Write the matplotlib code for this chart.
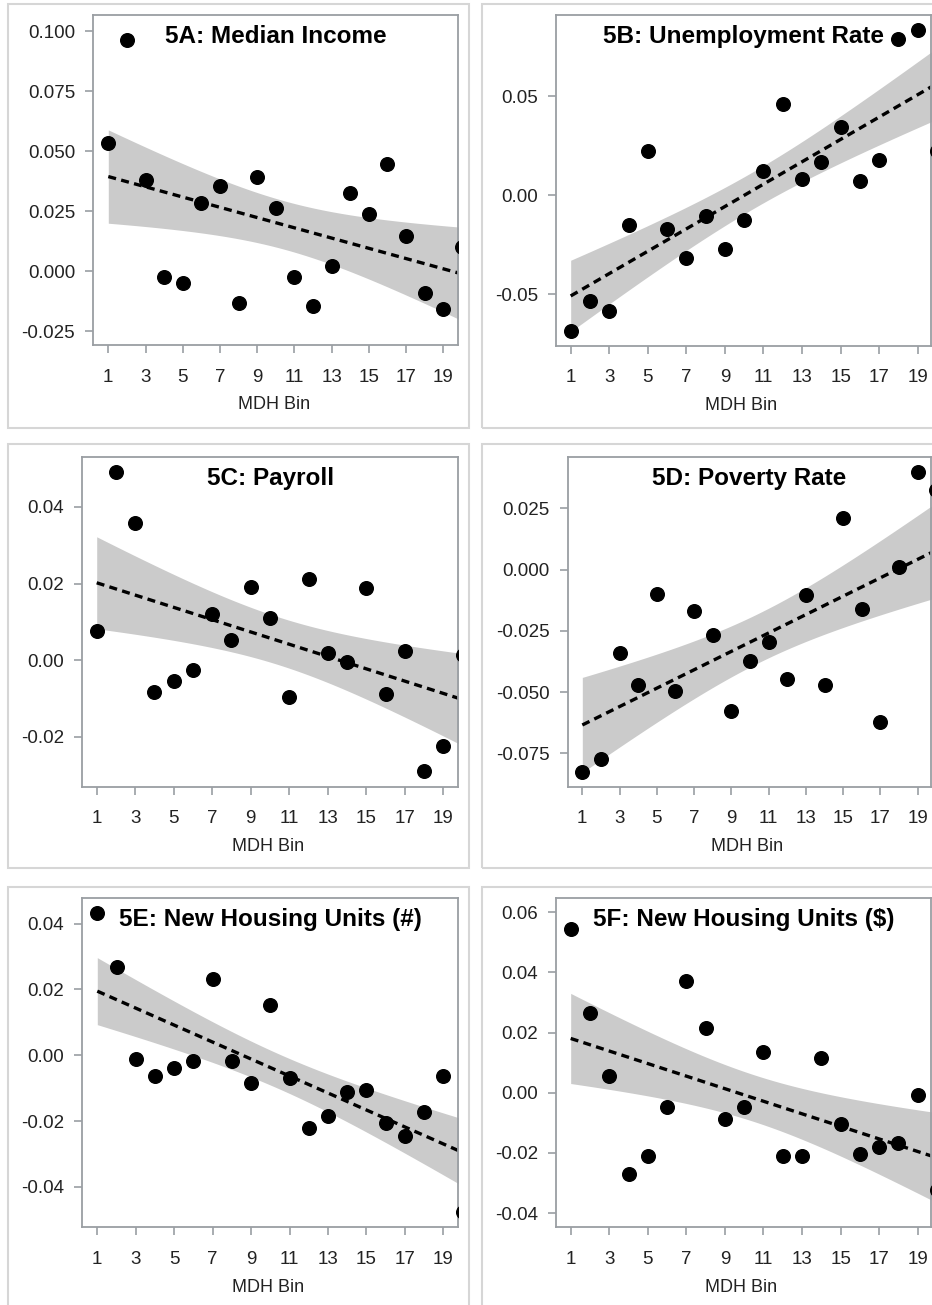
import numpy as np
import matplotlib
matplotlib.use("Agg")
import matplotlib.pyplot as plt
from matplotlib.patches import Rectangle

plt.rcParams['font.family'] = ['Liberation Sans', 'DejaVu Sans']

W, H = 932, 1305

bins = np.arange(1, 21)

median_income = [0.0532, 0.0963, 0.0378, -0.0024, -0.0049, 0.0285, 0.0354, -0.0132, 0.0393, 0.0261,
                 -0.0024, -0.0146, 0.0022, 0.0324, 0.0239, 0.0447, 0.0146, -0.0093, -0.0156, 0.0099]
unemployment = [-0.0684, -0.0534, -0.0582, -0.0150, 0.0226, -0.0168, -0.0318, -0.0103, -0.0273, -0.0123,
                0.0123, 0.0460, 0.0084, 0.0168, 0.0347, 0.0074, 0.0178, 0.0788, 0.0835, 0.0224]
payroll = [0.0077, 0.0492, 0.0357, -0.0083, -0.0053, -0.0025, 0.0120, 0.0053, 0.0192, 0.0110,
           -0.0097, 0.0213, 0.0018, -0.0005, 0.0188, -0.0088, 0.0024, -0.0290, -0.0223, 0.0014]
poverty = [-0.0827, -0.0773, -0.0341, -0.0471, -0.0099, -0.0494, -0.0167, -0.0267, -0.0576, -0.0373,
           -0.0297, -0.0448, -0.0105, -0.0471, 0.0212, -0.0161, -0.0623, 0.0012, 0.0400, 0.0325]
housing_n = [0.0433, 0.0269, -0.0011, -0.0063, -0.0039, -0.0017, 0.0231, -0.0017, -0.0085, 0.0153,
             -0.0068, -0.0220, -0.0184, -0.0112, -0.0107, -0.0207, -0.0247, -0.0174, -0.0063, -0.0478]
housing_usd = [0.0544, 0.0266, 0.0056, -0.0270, -0.0209, -0.0049, 0.0371, 0.0216, -0.0087, -0.0049,
               0.0136, -0.0209, -0.0209, 0.0117, -0.0104, -0.0202, -0.0179, -0.0166, -0.0006, -0.0323]

titles = ["5A: Median Income", "5B: Unemployment Rate", "5C: Payroll",
          "5D: Poverty Rate", "5E: New Housing Units (#)", "5F: New Housing Units ($)"]
series = [median_income, unemployment, payroll, poverty, housing_n, housing_usd]
yticks = [[-0.025, 0.0, 0.025, 0.05, 0.075, 0.1],
          [-0.05, 0.0, 0.05],
          [-0.02, 0.0, 0.02, 0.04],
          [-0.075, -0.05, -0.025, 0.0, 0.025],
          [-0.04, -0.02, 0.0, 0.02, 0.04],
          [-0.04, -0.02, 0.0, 0.02, 0.04, 0.06]]
ydecimals = [3, 2, 2, 3, 2, 2]
xticks = list(range(1, 20, 2))

# axes boxes in pixels: left, right, top, bottom
boxes = [(93.3, 458.3, 15, 345), (556, 931, 15, 345.7),
         (82.3, 458.3, 456.7, 786.7), (567.7, 931, 456.7, 786.7),
         (82.3, 458.3, 898.3, 1227.3), (556, 931, 898.3, 1227.3)]
xlims = [(0.194, 19.806), (0.238, 19.69), (0.252, 19.779),
         (0.216, 19.71), (0.22, 19.78), (0.238, 19.69)]
ylims = [(-0.0308, 0.1067), (-0.0759, 0.0911), (-0.033, 0.0531),
         (-0.0886, 0.0461), (-0.0523, 0.0477), (-0.0447, 0.0646)]
# outer frames in pixels: left, right, top, bottom
frames = [(8, 469.3, 4, 428.3), (481.7, 945, 4, 428.3),
          (8, 469.3, 444.3, 868), (481.7, 945, 444.3, 868),
          (8, 469.3, 886.7, 1320), (481.7, 945, 886.7, 1320)]

spine_col = '#9a9ea3'
frame_col = '#d6d6d6'
band_col = '#cbcbcb'


def ols_band(x, y, xs, t=1.7341):
    # fitted line with 90% confidence band for the mean
    x = np.asarray(x, float)
    y = np.asarray(y, float)
    b, a = np.polyfit(x, y, 1)
    n = len(x)
    s = np.sqrt(np.sum((y - (a + b * x)) ** 2) / (n - 2))
    sxx = np.sum((x - x.mean()) ** 2)
    fit = a + b * xs
    se = s * np.sqrt(1.0 / n + (xs - x.mean()) ** 2 / sxx)
    return fit, fit - t * se, fit + t * se


fig = plt.figure(figsize=(W / 100, H / 100), dpi=100)

for (l, r, t, b) in frames:
    fig.add_artist(Rectangle((l / W, 1 - b / H), (r - l) / W, (b - t) / H,
                             transform=fig.transFigure, fill=False,
                             edgecolor=frame_col, linewidth=1.5))

for i in range(6):
    l, r, t, b = boxes[i]
    ax = fig.add_axes([l / W, 1 - b / H, (r - l) / W, (b - t) / H])
    y = series[i]
    xs = np.linspace(1, 20, 200)
    fit, lo, hi = ols_band(bins, y, xs)

    ax.fill_between(xs, lo, hi, color=band_col, linewidth=0, zorder=1)
    ax.plot(xs, fit, color='black', linewidth=2.4, dashes=(2.4, 1.6), zorder=2)
    ax.plot(bins, y, 'o', color='black', markersize=9.8, zorder=3)

    ax.set_xlim(*xlims[i])
    ax.set_ylim(*ylims[i])
    ax.set_xticks(xticks)
    ax.set_xticklabels([str(v) for v in xticks])
    ax.set_yticks(yticks[i])
    ax.set_yticklabels([f"{v:.{ydecimals[i]}f}" for v in yticks[i]])

    for sp in ax.spines.values():
        sp.set_color(spine_col)
        sp.set_linewidth(1.3)
    ax.tick_params(axis='both', colors=spine_col, length=6, width=1.2,
                   labelcolor='#222222', labelsize=13.5)
    ax.tick_params(axis='x', pad=11)
    ax.tick_params(axis='y', pad=7)

    ax.annotate(titles[i], xy=(0.5, 1), xycoords='axes fraction',
                xytext=(0, -15.5), textcoords='offset points',
                ha='center', va='center', fontsize=17.5, fontweight='bold')
    ax.annotate("MDH Bin", xy=(0.5, 0), xycoords='axes fraction',
                xytext=(-1.5, -43), textcoords='offset points',
                ha='center', va='center', fontsize=13, color='#222222')

fig.savefig("out.png", dpi=100)
